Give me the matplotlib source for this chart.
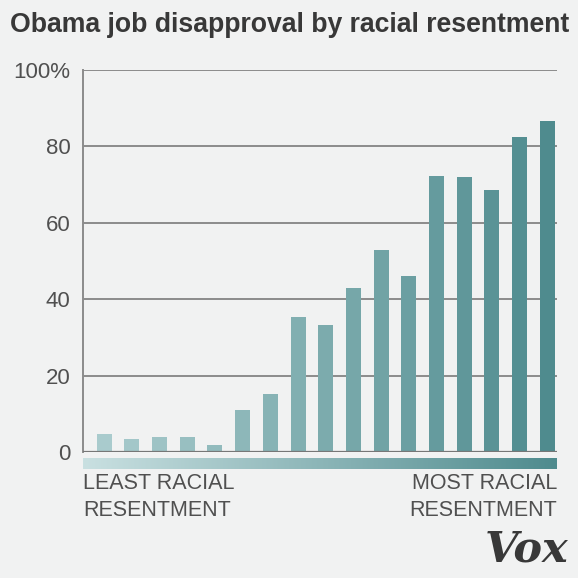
import matplotlib

matplotlib.use("Agg")
import matplotlib.pyplot as plt
import numpy as np
from matplotlib.colors import LinearSegmentedColormap

# disapproval share (%) per racial resentment bucket, least -> most
values = [4.8, 3.3, 3.9, 3.8, 1.9, 11.0, 15.1, 35.3, 33.3, 43.0, 53.0,
          46.0, 72.2, 72.0, 68.5, 82.4, 86.6]
yticks = [0, 20, 40, 60, 80, 100]
ytick_labels = ["0", "20", "40", "60", "80", "100%"]

BG = "#f1f2f2"
TEXT = "#505050"
teal = LinearSegmentedColormap.from_list("teal", ["#a9cbcd", "#4f8b8e"])
strip = LinearSegmentedColormap.from_list("strip", ["#c9e0e1", "#4f8b8e"])

W = 578
fig = plt.figure(figsize=(W / 100, W / 100), dpi=100, facecolor=BG)


def px(x0, y0, x1, y1):
    # pixel box (top-left origin) -> figure fraction rect
    return [x0 / W, 1 - y1 / W, (x1 - x0) / W, (y1 - y0) / W]


ax = fig.add_axes(px(83, 70, 557, 452))
ax.set_facecolor(BG)
n = len(values)
x = np.arange(n)
ax.bar(x, values, width=0.54, color=[teal(i / (n - 1)) for i in x], zorder=3)
ax.set_xlim(-0.765, n - 1 + 0.35)
ax.set_ylim(0, 100)
ax.set_yticks(yticks)
ax.set_yticklabels(ytick_labels)
ax.yaxis.grid(True, color="#8c8c8c", lw=1.4, zorder=1)
ax.set_axisbelow(True)
ax.tick_params(axis="y", length=0, pad=9, labelsize=16, labelcolor=TEXT)
for lab in ax.get_yticklabels():
    lab.set_fontfamily("Liberation Sans")
ax.set_xticks([])
for s in ("top", "right", "bottom"):
    ax.spines[s].set_visible(False)
ax.spines["left"].set_color("#8c8c8c")
ax.spines["left"].set_linewidth(1.4)
ax.axhline(0, color="#777777", lw=1.6, zorder=4)

# gradient strip under the bars
sax = fig.add_axes(px(83, 458, 557, 469))
sax.imshow(np.linspace(0, 1, 256)[None, :], aspect="auto", cmap=strip)
sax.axis("off")

fig.text(10 / W, 1 - 25 / W, "Obama job disapproval by racial resentment",
         fontsize=19.2, fontweight="heavy", color="#383838", va="center",
         family="Liberation Sans")
fig.text(83 / W, 1 - 497 / W, "LEAST RACIAL\nRESENTMENT", fontsize=15.5,
         color=TEXT, va="center", ha="left", linespacing=1.4,
         family="Liberation Sans")
fig.text(557 / W, 1 - 497 / W, "MOST RACIAL\nRESENTMENT", fontsize=15.5,
         color=TEXT, va="center", ha="right", linespacing=1.4,
         multialignment="right", family="Liberation Sans")
fig.text(568 / W, 1 - 550 / W, "Vox", fontsize=31, fontweight="bold",
         style="italic", family="DejaVu Serif", color="#383838",
         ha="right", va="center")

fig.savefig("out.png", dpi=100, facecolor=BG)
